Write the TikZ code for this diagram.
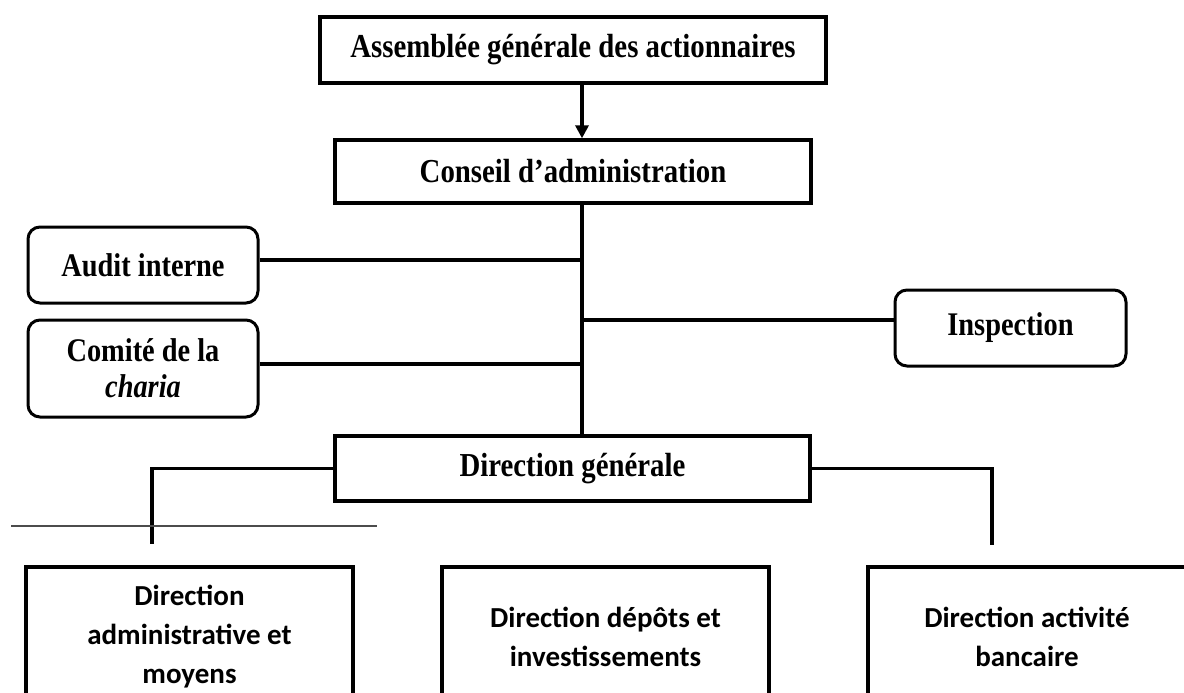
\documentclass[tikz,border=0pt]{standalone}
\usepackage{fontspec}
\setmainfont{Liberation Serif}[FakeStretch=0.86]
\newfontfamily\unitfont{Carlito}
\usetikzlibrary{arrows.meta}

\begin{document}
\begin{tikzpicture}[
    x=1pt,
    y=-1pt,
    board box/.style={draw=black, line width=3.4pt, inner sep=0pt,
      font=\bfseries\fontsize{33.5}{36}\selectfont},
    side box/.style={draw=black, line width=3pt, rounded corners=12pt, inner sep=0pt,
      align=center, font=\bfseries\fontsize{33}{36}\selectfont},
    unit box/.style={draw=black, line width=4pt, inner sep=0pt, align=center,
      font=\unitfont\bfseries\fontsize{29}{39}\selectfont},
    link/.style={draw=black, line width=3.4pt},
    rule line/.style={draw=black!70, line width=2pt}
]

% Page frame; the lower boxes run past the bottom and right edges.
\useasboundingbox (0,0) rectangle (1184,693);
\clip (0,0) rectangle (1184,693);

% Governing bodies.
\node[board box, minimum width=506, minimum height=66] (assemblee) at (573,50)
  {Assemblée générale des actionnaires};
\node[board box, minimum width=476, minimum height=63] (conseil) at (573,171.5)
  {Conseil d’administration};
\node[board box, minimum width=475, minimum height=65] (direction) at (572.5,468.5)
  {Direction générale};

% Control bodies beside the main line.
\node[side box, minimum width=230, minimum height=76] (audit) at (143,265)
  {Audit interne};
\node[side box, minimum width=230, minimum height=97] (charia) at (143,368.5)
  {Comité de la\\\textit{charia}};
\node[side box, minimum width=231, minimum height=76] (inspection) at (1010.5,328)
  {Inspection};

% Operational directions.
\node[unit box, minimum width=327, minimum height=140] (moyens) at (189.5,637)
  {Direction\\administrative et\\moyens};
\node[unit box, minimum width=327, minimum height=140] (depots) at (605.5,637)
  {Direction dépôts et\\investissements};
\node[unit box, minimum width=318, minimum height=140] (bancaire) at (1027,637)
  {Direction activité\\bancaire};

% Main line and the two cut drops.
\coordinate (trunk) at (582,0);
\coordinate (leftdrop) at (152,544);
\coordinate (rightdrop) at (992,545);

\draw[link, -{Triangle[length=13pt,width=13pt]}]
  (assemblee.south -| trunk) -- (conseil.north -| trunk);
\draw[link] (conseil.south -| trunk) -- (direction.north -| trunk);

% Side links.
\draw[link] ([yshift=5pt]audit.east) -- ([yshift=5pt]audit.east -| trunk);
\draw[link] ([yshift=4.5pt]charia.east) -- ([yshift=4.5pt]charia.east -| trunk);
\draw[link] ([yshift=8pt]inspection.west -| trunk) -- ([yshift=8pt]inspection.west);

\draw[link] (direction.west) -| (leftdrop);
\draw[link] (direction.east) -| (rightdrop);

% Footnote rule.
\draw[rule line] (11,526) -- (377,526);

\end{tikzpicture}
\end{document}
